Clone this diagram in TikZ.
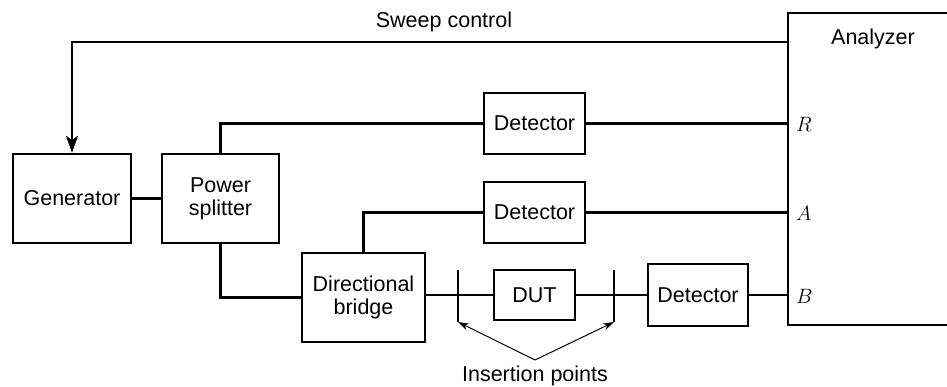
\documentclass[tikz,border=0pt]{standalone}
\usepackage{fontspec}
\setmainfont{Liberation Sans}
\usetikzlibrary{arrows.meta}
\begin{document}
\begin{tikzpicture}[x=1pt,y=-1pt,
  blk/.style={draw, line width=2.2pt, rectangle, inner sep=0pt, align=center,
    font=\fontsize{21.5}{23}\selectfont},
  wire/.style={line width=2.2pt},
  lbl/.style={inner sep=0pt, font=\fontsize{21.5}{23}\selectfont},
  port/.style={inner sep=0pt, anchor=west, font=\fontsize{22}{24}\selectfont}]
\useasboundingbox (0,0) rectangle (947,387);
% blocks
\node[blk, minimum width=118pt, minimum height=89pt] (gen) at (72,198.5) {Generator};
\node[blk, minimum width=117pt, minimum height=89pt] (spl) at (220.5,198.5) {Power\\splitter};
\node[blk, minimum width=101pt, minimum height=61pt] (det1) at (534.5,123.5) {Detector};
\node[blk, minimum width=101pt, minimum height=61pt] (det2) at (534.5,212.5) {Detector};
\node[blk, minimum width=123pt, minimum height=89pt] (brg) at (363.5,297.5) {Directional\\bridge};
\node[blk, minimum width=81pt, minimum height=50pt] (dut) at (534.5,295) {DUT};
\node[blk, minimum width=100pt, minimum height=62pt] (det3) at (698,295) {Detector};
\node[blk, minimum width=172pt, minimum height=312pt] (an) at (874,169) {};
\node[lbl] (antxt) at (873,39) {Analyzer};
% labels
\node[lbl] (sweep) at (444,22) {Sweep control};
\node[lbl] (ins) at (535,376) {Insertion points};
% coordinates
\coordinate (sw) at (788,42);
\coordinate (p1) at (458,270);
\coordinate (p1b) at (458,322);
\coordinate (p2) at (614,270);
\coordinate (p2b) at (614,322);
\coordinate (apex) at (535,360);
% ports
\node[port] (R) at (796,124) {$R$};
\node[port] (A) at (796,213) {$A$};
\node[port] (B) at (796,296) {$B$};
% connectors
\draw[wire, -{Stealth[length=17pt,width=12pt,inset=4pt]}] (sw) -| (gen.north);
\draw[wire] (gen.east) -- (spl.west);
\draw[wire] (spl.north) |- (det1.west);
\draw[wire] (det1.east) -- (det1.east -| an.west);
\draw[wire] (brg.north) |- (det2.west);
\draw[wire] (det2.east) -- (det2.east -| an.west);
\draw[wire] (spl.south) |- (brg.west);
\draw[wire] (brg.east |- dut.west) -- (dut.west);
\draw[wire] (dut.east) -- (det3.west);
\draw[wire] (det3.east) -- (det3.east -| an.west);
\draw[wire] (p1) -- (p1b);
\draw[wire] (p2) -- (p2b);
\draw[line width=1pt, -{Stealth[length=11pt,width=7pt]}] (apex) -- (p1b);
\draw[line width=1pt, -{Stealth[length=11pt,width=7pt]}] (apex) -- (p2b);
\end{tikzpicture}
\end{document}
